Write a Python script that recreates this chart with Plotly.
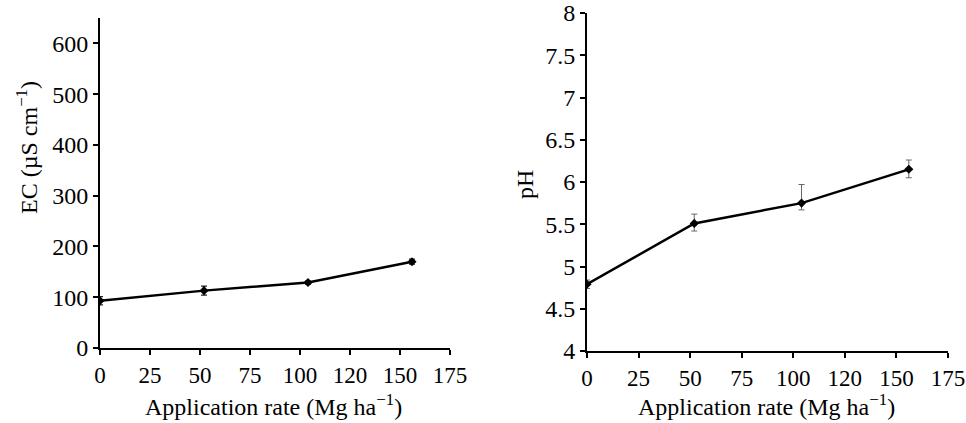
import plotly.graph_objects as go

# Data
rates = [0, 52, 104, 156]
ec_values = [93, 113, 129, 170]
ec_err = [8, 9, 3, 5]
ph_values = [4.79, 5.51, 5.75, 6.15]
ph_err_plus = [0.05, 0.11, 0.22, 0.11]
ph_err_minus = [0.05, 0.09, 0.08, 0.10]
x_tickvals = [0, 25, 50, 75, 100, 125, 150, 175]
x_ticktext = ["0", "25", "50", "75", "100", "120", "150", "175"]
ec_tickvals = [0, 100, 200, 300, 400, 500, 600]
ph_tickvals = [4, 4.5, 5, 5.5, 6, 6.5, 7, 7.5, 8]
ph_ticktext = ["4", "4.5", "5", "5.5", "6", "6.5", "7", "7.5", "8"]

W, H = 966, 423
FONT = "Liberation Serif"

fig = go.Figure()
fig.add_trace(go.Scatter(
    x=rates, y=ec_values, mode="lines+markers",
    line=dict(color="black", width=2.5),
    marker=dict(symbol="diamond", size=7, color="black"),
    error_y=dict(type="data", array=ec_err, color="#222", thickness=1.2, width=3),
    xaxis="x", yaxis="y", showlegend=False))
fig.add_trace(go.Scatter(
    x=rates, y=ph_values, mode="lines+markers",
    line=dict(color="black", width=2.5),
    marker=dict(symbol="diamond", size=7, color="black"),
    error_y=dict(type="data", symmetric=False, array=ph_err_plus, arrayminus=ph_err_minus,
                 color="#666", thickness=1, width=3),
    xaxis="x2", yaxis="y2", showlegend=False))

def px_x(p):
    return p / W

def px_y(p):
    return 1 - p / H

axis_common = dict(showline=True, linecolor="black", linewidth=2, ticks="outside",
                   tickcolor="black", tickwidth=2, ticklen=5, showgrid=False, zeroline=False,
                   automargin=False)
xfont = dict(family=FONT, size=23, color="black")
yfont = dict(family=FONT, size=24, color="black")

fig.update_layout(
    width=W, height=H, margin=dict(l=0, r=0, t=0, b=0),
    paper_bgcolor="white", plot_bgcolor="white",
    xaxis=dict(domain=[px_x(100), px_x(450)], range=[0, 175], tickvals=x_tickvals,
               ticktext=x_ticktext, anchor="y", tickfont=xfont, **axis_common),
    yaxis=dict(domain=[px_y(348), px_y(18)], range=[0, 650], tickvals=ec_tickvals,
               anchor="x", tickfont=yfont, **axis_common),
    xaxis2=dict(domain=[px_x(587), px_x(948)], range=[0, 175], tickvals=x_tickvals,
                ticktext=x_ticktext, anchor="y2", tickfont=xfont, **axis_common),
    yaxis2=dict(domain=[px_y(351), px_y(13)], range=[4, 8], tickvals=ph_tickvals,
                ticktext=ph_ticktext, anchor="x2", tickfont=yfont, **axis_common),
)

ann_font = dict(family=FONT, size=24, color="black")
common_ann = dict(xref="paper", yref="paper", showarrow=False, xanchor="center",
                  yanchor="middle", font=ann_font)
fig.add_annotation(text="Application rate (Mg ha<sup>\u22121</sup>)", x=px_x(273), y=px_y(405),
                   **common_ann)
fig.add_annotation(text="Application rate (Mg ha<sup>\u22121</sup>)", x=px_x(766), y=px_y(405),
                   **common_ann)
fig.add_annotation(text="EC (\u00b5S cm<sup>\u22121</sup>)", x=px_x(27), y=px_y(148),
                   textangle=-90, **common_ann)
fig.add_annotation(text="pH", x=px_x(525), y=px_y(185), textangle=-90, **common_ann)

fig.write_html("out.html", config={"displayModeBar": False},
               post_script="document.body.style.margin='0';document.body.style.overflow='hidden';")
